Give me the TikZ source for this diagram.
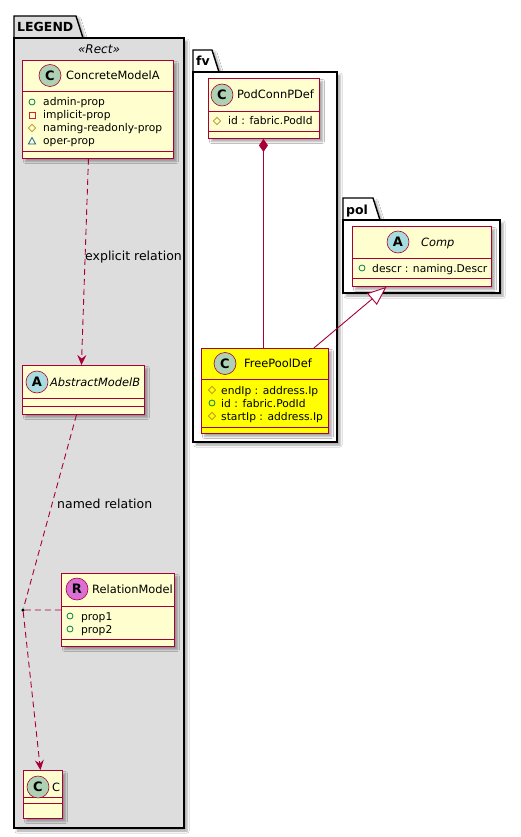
\documentclass[tikz,border=0pt]{standalone}
\usepackage{fontspec}
\setmainfont{DejaVu Sans}
\usetikzlibrary{arrows.meta,shadows.blur,calc}
\definecolor{bord}{HTML}{A80036}
\definecolor{clsfill}{HTML}{FEFECE}
\definecolor{legbg}{HTML}{DDDDDD}
\definecolor{circC}{HTML}{ADD1B2}
\definecolor{circA}{HTML}{A9DCDF}
\definecolor{circR}{HTML}{DA70D6}
\definecolor{pubc}{HTML}{038048}
\definecolor{privc}{HTML}{C82930}
\definecolor{protc}{HTML}{B38D22}
\definecolor{pkgc}{HTML}{1963A0}
\definecolor{hiyel}{HTML}{FFFF00}
\tikzset{
  shd/.style={blur shadow={shadow xshift=3pt,shadow yshift=-3pt,shadow opacity=35,shadow blur steps=5,shadow blur radius=2pt}},
  cls/.style={draw=bord, line width=0.9pt, fill=clsfill, inner sep=0, anchor=north west, shd},
  sep/.style={draw=bord, line width=0.9pt},
  hdr/.style={circle, draw=bord, line width=0.6pt, minimum size=22pt, inner sep=0, font=\bfseries\fontsize{13}{13}\selectfont},
  cname/.style={anchor=base west, inner sep=0, font=\fontsize{11.4}{13}\selectfont},
  aname/.style={anchor=base west, inner sep=0, font=\itshape\fontsize{11.4}{13}\selectfont},
  attr/.style={anchor=base west, inner sep=0, font=\fontsize{10.7}{12}\selectfont},
  lbl/.style={anchor=west, inner sep=0, font=\fontsize{12.5}{14}\selectfont},
  pkgname/.style={anchor=base west, inner sep=0, font=\bfseries\fontsize{12.5}{14}\selectfont},
  pkg/.style={draw=black, line width=1.4pt, shd},
  rel/.style={draw=bord, line width=0.9pt},
  dsh/.style={rel, dash pattern=on 6pt off 4pt},
  pubi/.style={draw=pubc, line width=0.8pt},
  privi/.style={draw=privc, line width=0.8pt},
  proti/.style={draw=protc, line width=0.8pt},
  pkgi/.style={draw=pkgc, line width=0.8pt},
}
\newcommand{\icpub}[2]{\draw[pubi] (#1,#2) circle (3pt);}
\newcommand{\icpriv}[2]{\draw[privi] ($(#1,#2)+(-3,-3)$) rectangle ($(#1,#2)+(3,3)$);}
\newcommand{\icprot}[2]{\draw[proti] ($(#1,#2)+(0,-3.6)$) -- ($(#1,#2)+(3.6,0)$) -- ($(#1,#2)+(0,3.6)$) -- ($(#1,#2)+(-3.6,0)$) -- cycle;}
\newcommand{\icpkg}[2]{\draw[pkgi] ($(#1,#2)+(-3.6,3)$) -- ($(#1,#2)+(3.6,3)$) -- ($(#1,#2)+(0,-3.5)$) -- cycle;}
\begin{document}
\begin{tikzpicture}[x=1pt,y=-1pt]
\useasboundingbox (0,0) rectangle (520,837);
\fill[white] (0,0) rectangle (520,837);

% ---------- packages ----------
\path[pkg, fill=legbg] (14,38) -- (14,16) -- (76,16) -- (83,38) -- cycle;
\path[pkg, fill=legbg] (14,38) rectangle (184,828);
\node[pkgname] (legname) at (17,31.5) {LEGEND};
\node[anchor=base, inner sep=0, font=\itshape\fontsize{12}{14}\selectfont] (stereo) at (99,53.5) {«Rect»};

\path[pkg, fill=white] (193,72) -- (193,50) -- (212,50) -- (219,72) -- cycle;
\path[pkg, fill=white] (193,72) rectangle (337,442);
\node[pkgname] (fvname) at (196,66) {fv};

\path[pkg, fill=white] (343,220) -- (343,198) -- (373,198) -- (380,220) -- cycle;
\path[pkg, fill=white] (343,220) rectangle (500,293);
\node[pkgname] (polname) at (346,214) {pol};

% ---------- ConcreteModelA ----------
\node[cls, minimum width=151pt, minimum height=98pt] (cma) at (22,60) {};
\draw[sep] (22,91) -- (173,91);
\draw[sep] (22,151) -- (173,151);
\node[hdr, fill=circC] (cmah) at (50,75.5) {C};
\node[cname] (cman) at (66,79.5) {ConcreteModelA};
\icpub{32}{102}
\node[attr] (a1) at (43,106) {admin-prop};
\icpriv{32}{115}
\node[attr] (a2) at (43,119) {implicit-prop};
\icprot{32}{128}
\node[attr] (a3) at (43,132) {naming-readonly-prop};
\icpkg{32}{141}
\node[attr] (a4) at (43,145) {oper-prop};

% ---------- AbstractModelB ----------
\node[cls, minimum width=122pt, minimum height=49pt] (amb) at (22,365) {};
\draw[sep] (22,398) -- (144,398);
\draw[sep] (22,406) -- (144,406);
\node[hdr, fill=circA] (ambh) at (37,382) {A};
\node[aname] (ambn) at (50,386) {AbstractModelB};

% ---------- RelationModel ----------
\node[cls, minimum width=113pt, minimum height=73pt] (rm) at (61,573) {};
\draw[sep] (61,606) -- (174,606);
\draw[sep] (61,639) -- (174,639);
\node[hdr, fill=circR] (rmh) at (77,589) {R};
\node[cname] (rmn) at (92,593) {RelationModel};
\icpub{70}{616}
\node[attr] (r1) at (81,620) {prop1};
\icpub{70}{629}
\node[attr] (r2) at (81,633) {prop2};

% ---------- C ----------
\node[cls, minimum width=39pt, minimum height=48pt] (cc) at (23,770) {};
\draw[sep] (23,797) -- (62,797);
\draw[sep] (23,803) -- (62,803);
\node[hdr, fill=circC] (cch) at (38,787) {C};
\node[cname] (ccn) at (52,791) {C};

% ---------- PodConnPDef ----------
\node[cls, minimum width=111pt, minimum height=60pt] (pcd) at (208,78) {};
\draw[sep] (208,111) -- (319,111);
\draw[sep] (208,131) -- (319,131);
\node[hdr, fill=circC] (pcdh) at (222,95) {C};
\node[cname] (pcdn) at (237,99) {PodConnPDef};
\icprot{217}{121}
\node[attr] (p1) at (228,125) {id : fabric.PodId};

% ---------- FreePoolDef ----------
\node[cls, fill=hiyel, minimum width=127pt, minimum height=85pt] (fpd) at (201,348) {};
\draw[sep] (201,379) -- (328,379);
\draw[sep] (201,427) -- (328,427);
\node[hdr, fill=circC] (fpdh) at (225,363.5) {C};
\node[cname] (fpdn) at (244,367.5) {FreePoolDef};
\icprot{212}{390}
\node[attr] (f1) at (221,394) {endIp : address.Ip};
\icpub{212}{403}
\node[attr] (f2) at (221,407) {id : fabric.PodId};
\icprot{212}{416}
\node[attr] (f3) at (221,420) {startIp : address.Ip};

% ---------- Comp ----------
\node[cls, minimum width=139pt, minimum height=60pt] (comp) at (352,226) {};
\draw[sep] (352,258) -- (491,258);
\draw[sep] (352,278) -- (491,278);
\node[hdr, fill=circA] (comph) at (398,242) {A};
\node[aname] (compn) at (421,246) {Comp};
\icpub{362}{268}
\node[attr] (c1) at (372,272) {descr : naming.Descr};

% ---------- relations ----------
\draw[dsh, -{Stealth[length=10pt,width=9pt,inset=3.5pt]}] ([xshift=-9.5pt]cma.south) -- ([xshift=-2pt]amb.north);
\node[lbl] (lab1) at (85,257) {explicit relation};

\node[circle, fill=black, inner sep=0, minimum size=3.5pt] (jn) at (23,610) {};
\draw[dsh] ([xshift=-7pt]amb.south) -- (jn);
\draw[dsh] (jn) -- (rm.west);
\draw[dsh, -{Stealth[length=10pt,width=9pt,inset=3.5pt]}] (jn) -- ([xshift=-2.5pt]cc.north);
\node[lbl] (lab2) at (57,504) {named relation};

\draw[rel, {Diamond[length=13pt,width=9pt]}-] ([xshift=-0.5pt]pcd.south) -- ([xshift=-1.5pt]fpd.north);
\draw[rel, -{Triangle[length=19pt,width=15pt,fill=white]}] ([xshift=-15pt]fpd.north east) -- ([xshift=-35.5pt]comp.south);
\end{tikzpicture}
\end{document}
